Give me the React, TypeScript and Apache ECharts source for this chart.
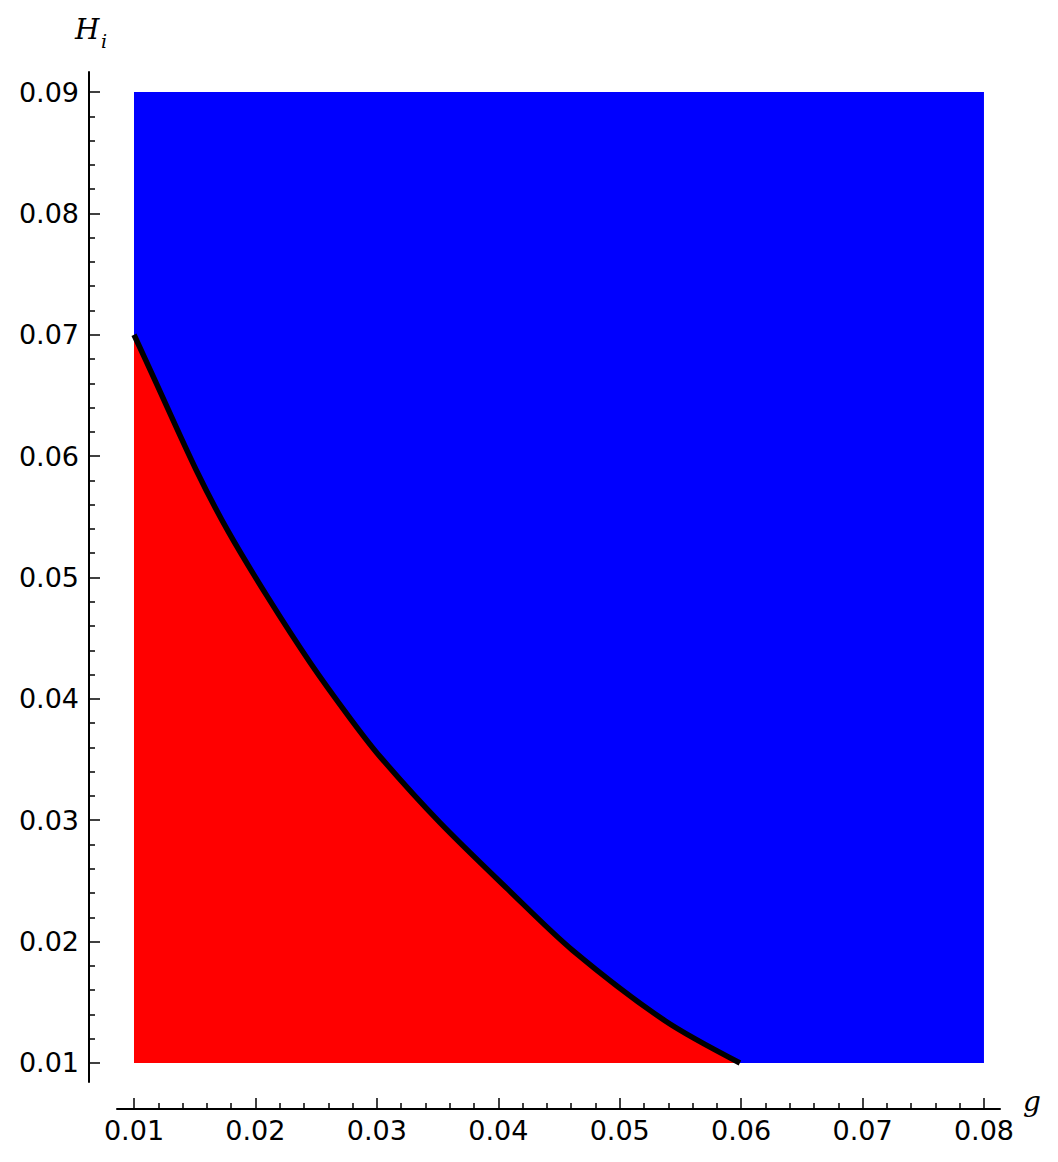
import React, { useEffect, useRef } from "react";
import * as echarts from "echarts";

// Boundary curve H_i(g)
const curveG = [0.01, 0.0117, 0.0151, 0.0177, 0.021, 0.0245, 0.0278, 0.0303, 0.0352, 0.0408, 0.0461, 0.0537, 0.0599];
const curveH = [0.07, 0.0663, 0.0589, 0.0539, 0.0484, 0.043, 0.0384, 0.0352, 0.0298, 0.0243, 0.0193, 0.0135, 0.01];

// Blue region: rectangle g in [0.01, 0.08], H in [0.01, 0.09]
const regionG = [0.01, 0.08];
const regionHTop = [0.09, 0.09];
const regionHBottom = 0.01;

// Axis ranges and ticks
const xRange = [0.0086, 0.08132];
const yRange = [0.00843, 0.09165];
const xTicks = [0.01, 0.02, 0.03, 0.04, 0.05, 0.06, 0.07, 0.08];
const yTicks = [0.01, 0.02, 0.03, 0.04, 0.05, 0.06, 0.07, 0.08, 0.09];
const minorStep = 0.002;

function minorTicks(range: number[], majors: number[]): number[] {
  const out: number[] = [];
  const start = Math.ceil(range[0] / minorStep - 1e-9);
  const end = Math.floor(range[1] / minorStep + 1e-9);
  for (let k = start; k <= end; k++) {
    const v = +(k * minorStep).toFixed(4);
    if (!majors.some((m) => Math.abs(m - v) < 1e-9)) out.push(v);
  }
  return out;
}

export default function App() {
  const ref = useRef<HTMLDivElement>(null);
  useEffect(() => {
    document.body.style.margin = "0";
    if (!ref.current) return;
    const chart = echarts.init(ref.current, undefined, { renderer: "svg" });
    const curve = curveG.map((g, i) => [g, curveH[i]]);
    const rect = regionG.map((g, i) => [g, regionHTop[i]]);
    const labelFont = { fontSize: 27, color: "#000", fontFamily: "DejaVu Sans" };
    const fmt = (v: number) => v.toFixed(2);
    chart.setOption({
      animation: false,
      backgroundColor: "#fff",
      grid: { left: 117, right: 58, top: 72, bottom: 80, containLabel: false, outerBoundsMode: "none" },
      xAxis: [
        {
          type: "value",
          min: xRange[0],
          max: xRange[1],
          position: "bottom",
          offset: 27,
          axisLine: { show: true, lineStyle: { color: "#000", width: 2 } },
          axisTick: { show: true, inside: true, length: 11, lineStyle: { color: "#000", width: 1.5 }, customValues: xTicks },
          axisLabel: { ...labelFont, margin: 8, customValues: xTicks, formatter: fmt },
          splitLine: { show: false },
        },
        {
          type: "value",
          min: xRange[0],
          max: xRange[1],
          position: "bottom",
          offset: 27,
          axisLine: { show: false },
          axisTick: { show: true, inside: true, length: 6, lineStyle: { color: "#000", width: 1.5 }, customValues: minorTicks(xRange, xTicks) },
          axisLabel: { show: false },
          splitLine: { show: false },
        },
      ],
      yAxis: [
        {
          type: "value",
          min: yRange[0],
          max: yRange[1],
          position: "left",
          offset: 28,
          axisLine: { show: true, lineStyle: { color: "#000", width: 2 } },
          axisTick: { show: true, inside: true, length: 11, lineStyle: { color: "#000", width: 1.5 }, customValues: yTicks },
          axisLabel: { ...labelFont, margin: 10, customValues: yTicks, formatter: fmt },
          splitLine: { show: false },
        },
        {
          type: "value",
          min: yRange[0],
          max: yRange[1],
          position: "left",
          offset: 28,
          axisLine: { show: false },
          axisTick: { show: true, inside: true, length: 6, lineStyle: { color: "#000", width: 1.5 }, customValues: minorTicks(yRange, yTicks) },
          axisLabel: { show: false },
          splitLine: { show: false },
        },
      ],
      graphic: [
        { type: "text", left: 75, top: 15, style: { text: "H", font: "italic 28px 'DejaVu Serif'", fill: "#000" } },
        { type: "text", left: 101, top: 31, style: { text: "i", font: "italic 19px 'DejaVu Serif'", fill: "#000" } },
        { type: "text", left: 1023, top: 1087, style: { text: "g", font: "italic 28px 'DejaVu Serif'", fill: "#000" } },
      ],
      series: [
        {
          type: "line",
          data: rect,
          symbol: "none",
          lineStyle: { width: 0 },
          areaStyle: { color: "#0000ff", opacity: 1, origin: regionHBottom },
          silent: true,
          z: 1,
        },
        {
          type: "line",
          data: curve,
          symbol: "none",
          smooth: 0.3,
          lineStyle: { color: "#000", width: 5.5 },
          areaStyle: { color: "#ff0000", opacity: 1, origin: regionHBottom },
          silent: true,
          z: 2,
        },
      ],
    });
    return () => chart.dispose();
  }, []);
  return <div ref={ref} style={{ width: 1058, height: 1162 }} />;
}
